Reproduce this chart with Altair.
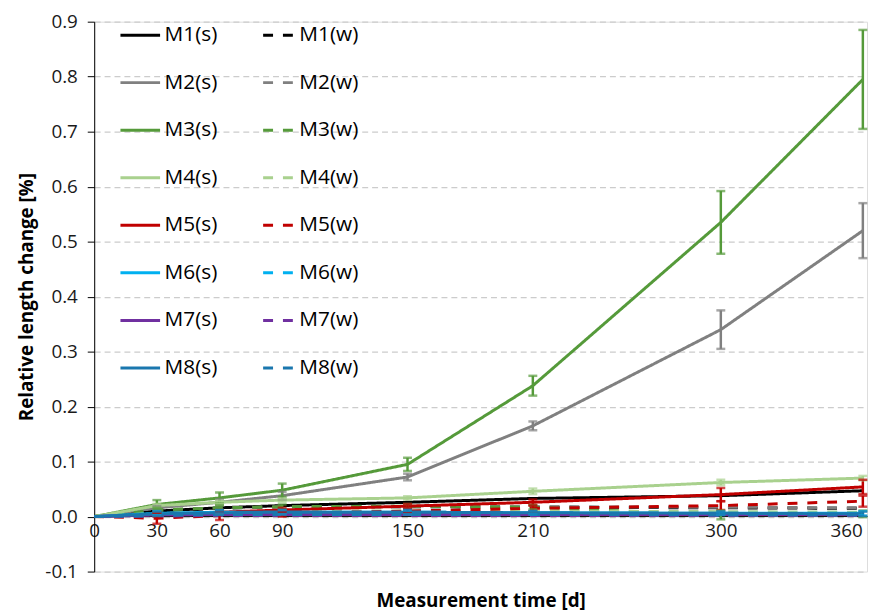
import altair as alt
import pandas as pd

days = [0, 30, 60, 90, 150, 210, 300, 368]
x_tick_values = [0, 30, 60, 90, 150, 210, 300, 360]
y_tick_values = [-0.1, 0.0, 0.1, 0.2, 0.3, 0.4, 0.5, 0.6, 0.7, 0.8, 0.9]

names = ["M1(s)", "M1(w)", "M2(s)", "M2(w)", "M3(s)", "M3(w)", "M4(s)", "M4(w)",
         "M5(s)", "M5(w)", "M6(s)", "M6(w)", "M7(s)", "M7(w)", "M8(s)", "M8(w)"]

m1_s = [0, 0.010, 0.016, 0.020, 0.026, 0.033, 0.038, 0.047]
m1_w = [0, 0.010, 0.015, 0.018, 0.018, 0.017, 0.016, 0.015]
m2_s = [0, 0.016, 0.026, 0.038, 0.072, 0.165, 0.340, 0.520]
m2_w = [0, 0.012, 0.016, 0.018, 0.018, 0.018, 0.017, 0.016]
m3_s = [0, 0.022, 0.034, 0.048, 0.095, 0.238, 0.535, 0.795]
m3_w = [0, 0.012, 0.016, 0.018, 0.019, 0.017, 0.003, 0.005]
m4_s = [0, 0.020, 0.026, 0.030, 0.034, 0.046, 0.062, 0.070]
m4_w = [0, 0.006, 0.008, 0.010, 0.010, 0.010, 0.009, 0.008]
m5_s = [0, 0.004, 0.008, 0.012, 0.019, 0.026, 0.040, 0.054]
m5_w = [0, -0.003, 0.002, 0.006, 0.010, 0.015, 0.020, 0.028]
m6_s = [0, 0.006, 0.008, 0.008, 0.008, 0.007, 0.006, 0.006]
m6_w = [0, 0.002, 0.003, 0.003, 0.003, 0.002, 0.002, 0.002]
m7_s = [0, 0.003, 0.004, 0.004, 0.004, 0.004, 0.004, 0.004]
m7_w = [0, 0.001, 0.002, 0.002, 0.002, 0.002, 0.002, 0.002]
m8_s = [0, 0.005, 0.007, 0.008, 0.008, 0.007, 0.006, 0.005]
m8_w = [0, 0.002, 0.004, 0.004, 0.004, 0.004, 0.003, 0.003]

values = [m1_s, m1_w, m2_s, m2_w, m3_s, m3_w, m4_s, m4_w,
          m5_s, m5_w, m6_s, m6_w, m7_s, m7_w, m8_s, m8_w]

# error bar half-widths (only series that show them)
err_m2_s = [0, 0.004, 0.005, 0.007, 0.006, 0.008, 0.035, 0.050]
err_m3_s = [0, 0.008, 0.010, 0.012, 0.012, 0.018, 0.057, 0.090]
err_m3_w = [0, 0.004, 0.004, 0.004, 0.004, 0.004, 0.008, 0.006]
err_m4_s = [0, 0.003, 0.003, 0.003, 0.003, 0.005, 0.005, 0.004]
err_m5_s = [0, 0.004, 0.004, 0.004, 0.004, 0.005, 0.012, 0.013]
err_m5_w = [0, 0.010, 0.008, 0.006, 0.004, 0.005, 0.008, 0.010]
err_m6_s = [0, 0.004, 0.004, 0.004, 0.004, 0.003, 0.003, 0.004]
err_m8_s = [0, 0.004, 0.004, 0.004, 0.004, 0.003, 0.003, 0.004]
errors = {"M2(s)": err_m2_s, "M3(s)": err_m3_s, "M3(w)": err_m3_w, "M4(s)": err_m4_s,
          "M5(s)": err_m5_s, "M5(w)": err_m5_w, "M6(s)": err_m6_s, "M8(s)": err_m8_s}

base_colors = ["#000000", "#808080", "#559a3a", "#a9d18e",
               "#c00000", "#00b0f0", "#7030a0", "#1a77ae"]
color_of = {n: base_colors[i // 2] for i, n in enumerate(names)}
dash_of = {n: ([1, 0] if n.endswith("(s)") else [10, 10]) for n in names}

# legend is filled column by column: all (s) first, then all (w)
legend_order = [n for n in names if n.endswith("(s)")] + [n for n in names if n.endswith("(w)")]
color_range = [color_of[n] for n in legend_order]
dash_range = [dash_of[n] for n in legend_order]

rows = []
for name, vals in zip(names, values):
    for d, v in zip(days, vals):
        rows.append({"series": name, "day": d, "value": v})
df = pd.DataFrame(rows)

erows = []
for name, errs in errors.items():
    vals = values[names.index(name)]
    for d, v, e in zip(days, vals, errs):
        if e > 0:
            erows.append({"series": name, "day": d, "lo": v - e, "hi": v + e})
edf = pd.DataFrame(erows)
caps = pd.concat([edf[["series", "day", "lo"]].rename(columns={"lo": "cap"}),
                  edf[["series", "day", "hi"]].rename(columns={"hi": "cap"})])

x_scale = alt.Scale(domain=[0, 370], nice=False, zero=False)
y_scale = alt.Scale(domain=[-0.1, 0.9], nice=False)
color_scale = alt.Scale(domain=legend_order, range=color_range)

x_enc = alt.X("day:Q", scale=x_scale, title="Measurement time [d]",
              axis=alt.Axis(values=x_tick_values, offset=-56, grid=False, ticks=False,
                            domain=True, domainColor="#000000", domainWidth=1,
                            labelFontSize=19, labelPadding=6, labelColor="#1a1a1a",
                            titleFontSize=19, titleFontWeight="bold", titlePadding=51,
                            titleColor="#000000", labelFlush=False))
y_enc = alt.Y("value:Q", scale=y_scale, title="Relative length  change [%]",
              axis=alt.Axis(values=y_tick_values, format=".1f", grid=True,
                            labelExpr="replace(datum.label, '\u2212', '-')",
                            gridDash=[6, 4], gridColor="#cccccc", gridWidth=1.2,
                            ticks=True, tickSize=7, tickColor="#000000",
                            domain=True, domainColor="#000000",
                            labelFontSize=19, labelPadding=10, labelColor="#1a1a1a",
                            titleFontSize=19, titleFontWeight="bold", titlePadding=8,
                            titleColor="#000000"))

legend = alt.Legend(title=None, orient="none", legendX=25, legendY=-8, columns=2,
                    symbolType="stroke", symbolSize=1600, symbolStrokeWidth=3,
                    symbolDashOffset=12, labelFontSize=21, labelOffset=3,
                    columnPadding=31, rowPadding=16, labelColor="#000000",
                    labelFont="Open Sans")

lines = alt.Chart(df).mark_line(strokeWidth=3).encode(
    x=x_enc, y=y_enc,
    color=alt.Color("series:N", scale=color_scale, legend=legend),
    strokeDash=alt.StrokeDash("series:N", scale=alt.Scale(domain=legend_order, range=dash_range),
                              legend=legend),
)

bars = alt.Chart(edf).mark_rule(strokeWidth=2.5).encode(
    x=alt.X("day:Q", scale=x_scale),
    y=alt.Y("lo:Q", scale=y_scale),
    y2="hi:Q",
    color=alt.Color("series:N", scale=color_scale, legend=None),
)

cap_marks = alt.Chart(caps).mark_tick(orient="horizontal", size=9, thickness=2.5).encode(
    x=alt.X("day:Q", scale=x_scale),
    y=alt.Y("cap:Q", scale=y_scale),
    color=alt.Color("series:N", scale=color_scale, legend=None),
)

chart = alt.layer(lines, bars, cap_marks).properties(
    width=780, height=555,
    autosize=alt.AutoSizeParams(type="none"),
    padding={"left": 87, "top": 11, "right": 3, "bottom": 40},
    background="#ffffff",
).configure_view(stroke=None).configure(font="Open Sans")

chart.save("out.html", embed_options={"renderer": "svg", "actions": False})
